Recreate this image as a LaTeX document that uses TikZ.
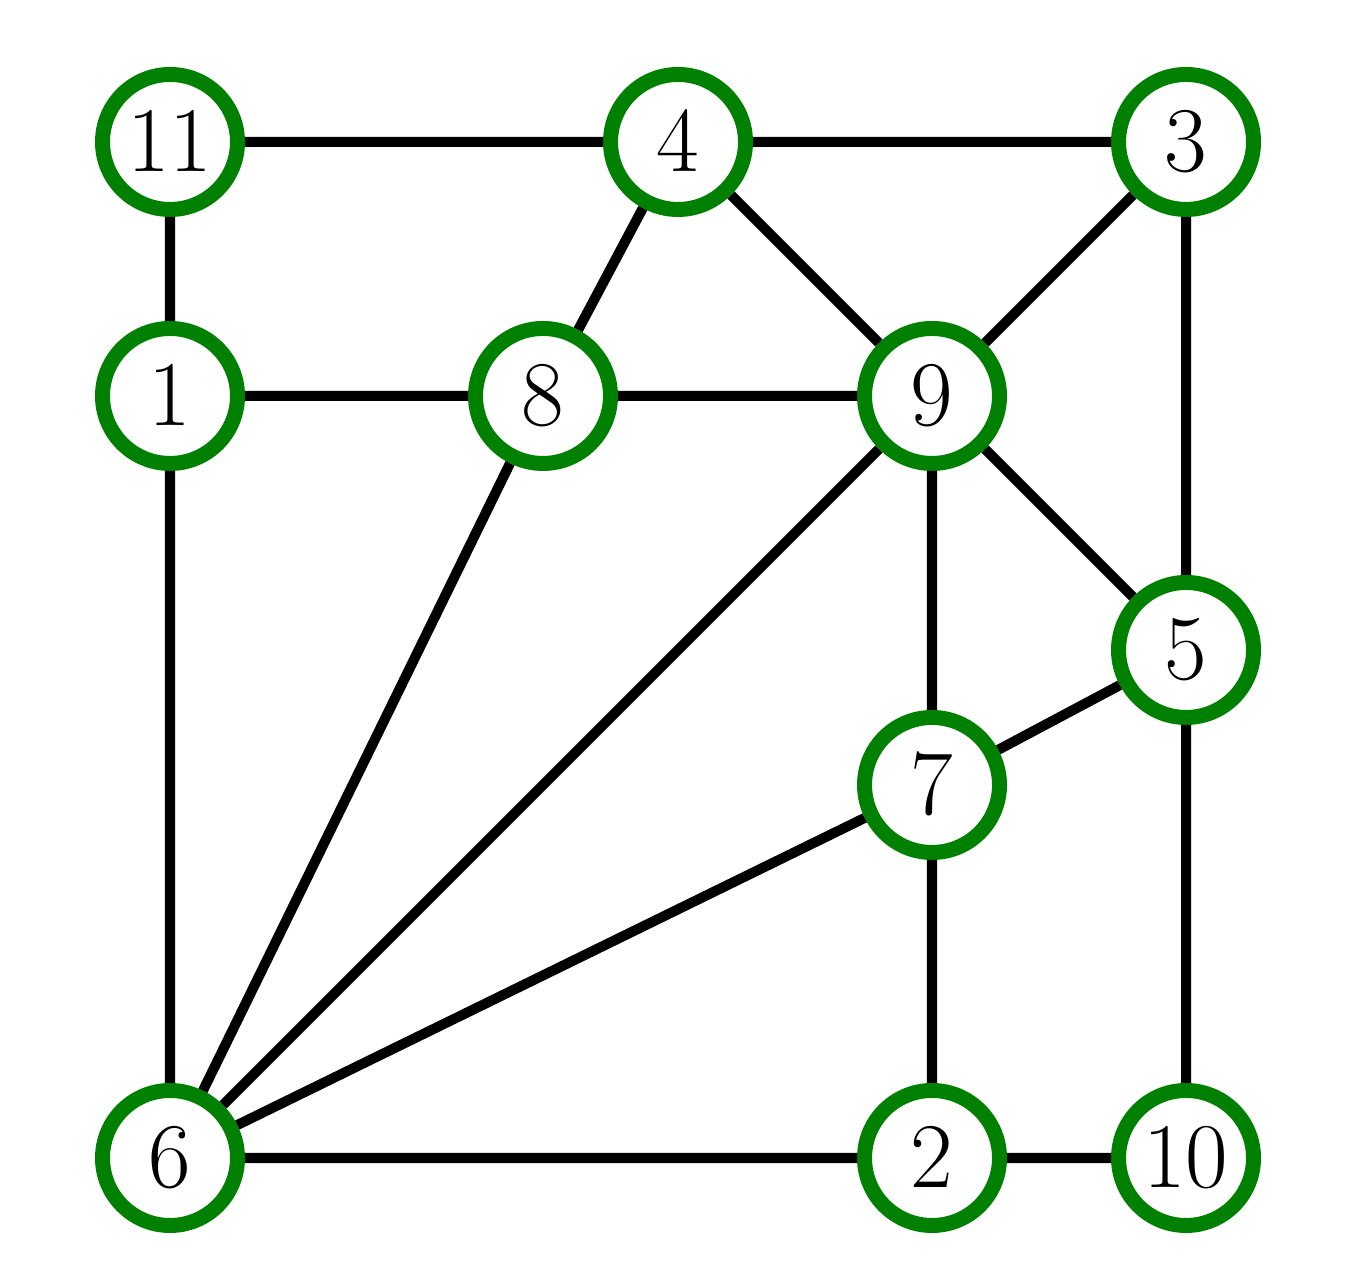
\documentclass[tikz,border=0pt]{standalone}
\usepackage{tikz}
\usetikzlibrary{positioning}
\definecolor{mygreen}{RGB}{0,128,0}
\tikzset{
  graphpic/.style={
    x=2cm
    ,y=2cm
  }
  ,vertex/.style={circle
    ,draw=mygreen
    ,line width=3.36pt
    ,fill=white
    ,minimum size=1.063cm
    ,inner sep=0pt
    ,font=\fontsize{19.1pt}{23pt}\selectfont
  }
  ,edge/.style={draw=black,line width=2.25pt}
}
\begin{document}
\begin{tikzpicture}[graphpic]
    \useasboundingbox (-0.6693,-0.508) rectangle (4.6496,4.559);
    % top row
    \node[vertex] (v11) at (0,4) {$11$};
    \node[vertex] (v4) at (2,4) {$4$};
    \node[vertex] (v3) at (4,4) {$3$};
    % middle
    \node[vertex] (v1) at (0,3) {$1$};
    \node[vertex] (v8) at (1.4685,3) {$8$};
    \node[vertex] (v9) at (3,3) {$9$};
    \node[vertex] (v5) at (4,2) {$5$};
    \node[vertex] (v7) at (3,1.4685) {$7$};
    % bottom row
    \node[vertex] (v6) at (0,0) {$6$};
    \node[vertex] (v2) at (3,0) {$2$};
    \node[vertex] (v10) at (4,0) {$10$};
    % edges
    \draw[edge] (v11) -- (v4) (v4) -- (v3) (v11) -- (v1)
      (v4) -- (v8) (v4) -- (v9) (v3) -- (v9) (v3) -- (v5)
      (v1) -- (v8) (v8) -- (v9) (v1) -- (v6)
      (v8) -- (v6) (v9) -- (v6) (v7) -- (v6)
      (v9) -- (v7) (v9) -- (v5) (v5) -- (v7)
      (v7) -- (v2) (v5) -- (v10) (v6) -- (v2) (v2) -- (v10);
  \end{tikzpicture}
\end{document}
